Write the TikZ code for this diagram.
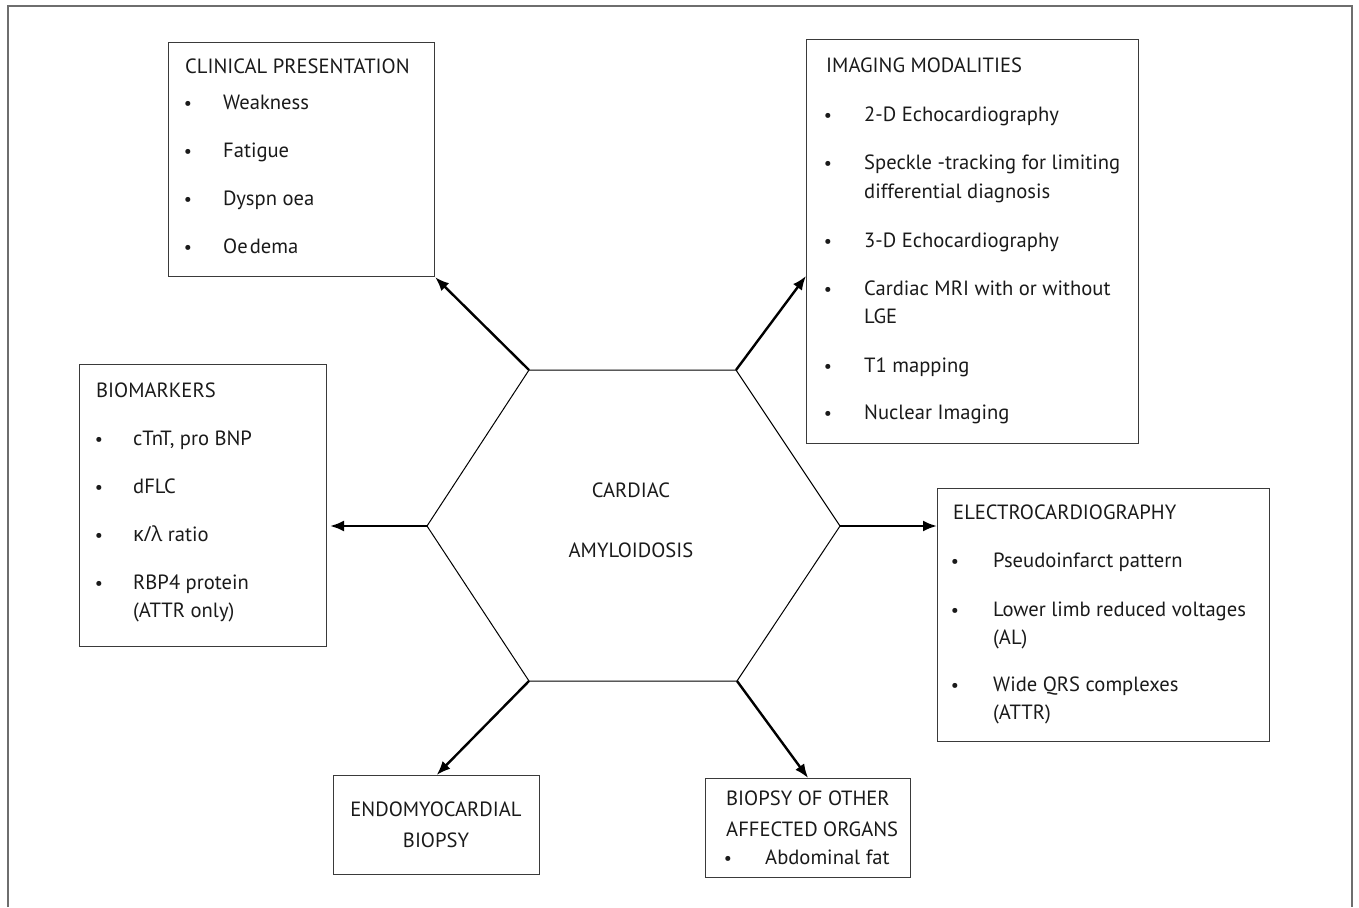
\documentclass[tikz,border=0pt]{standalone}
\usepackage{fontspec}
\setmainfont{PT Sans}
\newfontfamily\grk{Open Sans}
\usetikzlibrary{arrows.meta}
\definecolor{ink}{HTML}{1A1A1A}
\definecolor{boxgray}{HTML}{3A3A3A}
\definecolor{framegray}{HTML}{6E6E6E}
\begin{document}
\begin{tikzpicture}[x=1pt,y=-1pt,
  box/.style={draw=boxgray,line width=1.2pt,anchor=north west,inner sep=0pt},
  txt/.style={anchor=base west,inner sep=0pt,text=ink,font=\fontsize{20.6}{25}\selectfont},
  ctxt/.style={anchor=base,inner sep=0pt,text=ink,font=\fontsize{20.6}{25}\selectfont},
  bul/.style={anchor=base,inner sep=0pt,text=ink,font=\fontsize{18}{20}\selectfont},
  conn/.style={draw=black,line width=2.4pt,-{Latex[length=14pt,width=11pt]}},
  hexline/.style={draw=black,line width=1pt,line join=miter},
  frameline/.style={draw=framegray,line width=1.5pt}
]
\useasboundingbox (0,0) rectangle (1359,907);
\draw[frameline] (8,907) -- (8,6) -- (1352,6) -- (1352,907);

% boxes
\node[box,minimum width=266pt,minimum height=234pt] (clin) at (168,42) {};
\node[box,minimum width=332pt,minimum height=404pt] (img) at (806,39) {};
\node[box,minimum width=247pt,minimum height=282pt] (bio) at (79,364) {};
\node[box,minimum width=332pt,minimum height=253pt] (ecg) at (937,488) {};
\node[box,minimum width=206pt,minimum height=99pt] (endo) at (333,775) {};
\node[box,minimum width=205pt,minimum height=99pt] (oth) at (705,778) {};

% hexagon
\coordinate (hTL) at (529,370);
\coordinate (hTR) at (736,370);
\coordinate (hR) at (840,526);
\coordinate (hBR) at (737,681);
\coordinate (hBL) at (529,681);
\coordinate (hL) at (427,526);
\draw[hexline] (hTL) -- (hTR) -- (hR) -- (hBR) -- (hBL) -- (hL) -- cycle;
\node[ctxt] (hex1) at (631,497) {CARDIAC};
\node[ctxt] (hex2) at (631,557) {AMYLOIDOSIS};

% connectors
\coordinate (imgA) at (806,276);
\coordinate (bioA) at (330,526);
\draw[conn] (hTL) -- (clin.south east);
\draw[conn] (hTR) -- (imgA);
\draw[conn] (hL) -- (bioA);
\draw[conn] (hR) -- (ecg.west |- hR);
\draw[conn] (hBL) -- (endo.north);
\draw[conn] (hBR) -- (oth.north);

% clinical presentation
\node[txt] (c0) at (185,74) {CLINICAL PRESENTATION};
\node[bul] (cb1) at (188,109) {•}; \node[txt] (c1) at (223,109) {Weakness};
\node[bul] (cb2) at (188,157) {•}; \node[txt] (c2) at (223,157) {Fatigue};
\node[bul] (cb3) at (188,205) {•}; \node[txt] (c3) at (223,205) {Dyspn oea};
\node[bul] (cb4) at (188,253) {•}; \node[txt] (c4) at (223,253) {Oe\hspace{2pt}dema};

% imaging modalities
\node[txt] (i0) at (826,73) {IMAGING MODALITIES};
\node[bul] (ib1) at (828,121) {•}; \node[txt] (i1) at (864,121) {2-D Echocardiography};
\node[bul] (ib2) at (828,169) {•}; \node[txt] (i2) at (864,169) {Speckle -tracking for limiting};
\node[txt] (i2b) at (864,198) {differential diagnosis};
\node[bul] (ib3) at (828,247) {•}; \node[txt] (i3) at (864,247) {3-D Echocardiography};
\node[bul] (ib4) at (828,295) {•}; \node[txt] (i4) at (864,295) {Cardiac MRI with or without};
\node[txt] (i4b) at (864,323) {LGE};
\node[bul] (ib5) at (828,372) {•}; \node[txt] (i5) at (864,372) {T1 mapping};
\node[bul] (ib6) at (828,419) {•}; \node[txt] (i6) at (864,419) {Nuclear Imaging};

% biomarkers
\node[txt] (b0) at (96,397) {BIOMARKERS};
\node[bul] (bb1) at (99,445) {•}; \node[txt] (b1) at (133,445) {cTnT, pro BNP};
\node[bul] (bb2) at (99,493) {•}; \node[txt] (b2) at (133,493) {dFLC};
\node[bul] (bb3) at (99,541) {•}; \node[txt] (b3) at (133,541) {{\grk κ/λ} ratio};
\node[bul] (bb4) at (99,589) {•}; \node[txt] (b4) at (133,589) {RBP4 protein};
\node[txt] (b4b) at (133,617) {(ATTR only)};

% electrocardiography
\node[txt] (e0) at (953,519) {ELECTROCARDIOGRAPHY};
\node[bul] (eb1) at (955,567) {•}; \node[txt] (e1) at (993,567) {Pseudoinfarct pattern};
\node[bul] (eb2) at (955,616) {•}; \node[txt] (e2) at (993,616) {Lower limb reduced voltages};
\node[txt] (e2b) at (993,644) {(AL)};
\node[bul] (eb3) at (955,691) {•}; \node[txt] (e3) at (993,691) {Wide QRS complexes};
\node[txt] (e3b) at (993,719) {(ATTR)};

% endomyocardial biopsy
\node[ctxt] (n1) at (436,816) {ENDOMYOCARDIAL};
\node[ctxt] (n2) at (436,847) {BIOPSY};

% biopsy of other organs
\node[txt] (o1) at (726,805) {BIOPSY OF OTHER};
\node[txt] (o2) at (726,836) {AFFECTED ORGANS};
\node[bul] (ob1) at (728,864) {•}; \node[txt] (o3) at (765,864) {Abdominal fat};
\end{tikzpicture}
\end{document}
